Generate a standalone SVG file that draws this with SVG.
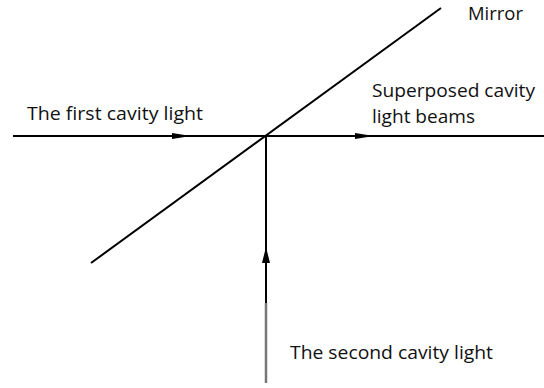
<svg xmlns="http://www.w3.org/2000/svg" width="544" height="388" viewBox="0 0 544 388">
<style>
.ln{stroke:#000;stroke-width:2;fill:none}
.t{font-family:"Open Sans",sans-serif;font-size:17.5px;fill:#111;lengthAdjust:spacingAndGlyphs}
</style>
<rect width="544" height="388" fill="#fff"/>
<g id="connectors">
<line class="ln" x1="13" y1="136" x2="544" y2="136"/>
<path d="M172,133 L191,136 L172,139 Z" fill="#000"/>
<path d="M355,133 L374,136 L355,139 Z" fill="#000"/>
<line class="ln" x1="266" y1="136" x2="266" y2="304"/>
<line x1="266" y1="303" x2="266" y2="383" stroke="#777" stroke-width="2.5"/>
<path d="M262,263 L266,247 L270,263 Z" fill="#000"/>
</g>
<g id="mirror">
<line class="ln" x1="91" y1="263" x2="441" y2="8" stroke-width="2.5"/>
<text class="t" x="468" y="20" textLength="55" lengthAdjust="spacingAndGlyphs">Mirror</text>
</g>
<g id="first-light">
<text class="t" x="27" y="120" textLength="176" lengthAdjust="spacingAndGlyphs">The first cavity light</text>
</g>
<g id="superposed">
<text class="t" x="372" y="97" textLength="163" lengthAdjust="spacingAndGlyphs">Superposed cavity</text>
<text class="t" x="372" y="123" textLength="103" lengthAdjust="spacingAndGlyphs">light beams</text>
</g>
<g id="second-light">
<text class="t" x="290" y="359" textLength="203" lengthAdjust="spacingAndGlyphs">The second cavity light</text>
</g>
</svg>
